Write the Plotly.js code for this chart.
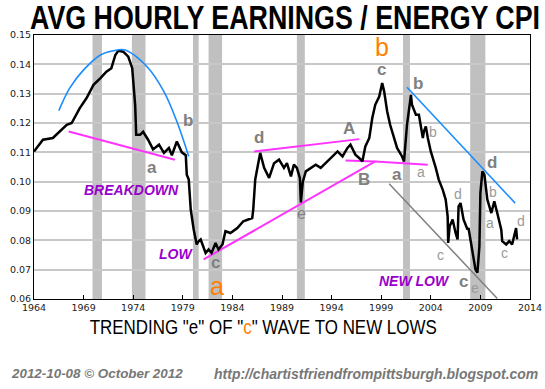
<!DOCTYPE html>
<html>
<head>
<meta charset="utf-8">
<script src="https://cdn.plot.ly/plotly-3.0.1.min.js"></script>
<style>html,body{margin:0;padding:0;background:#fff;}#chart{width:545px;height:389px;}</style>
</head>
<body>
<div id="chart"></div>
<script>
// Main series: avg hourly earnings / energy CPI
const years = [1964.0,1964.9,1965.9,1967.3,1967.8,1968.6,1969.3,1970.0,1970.7,1971.3,1971.8,1972.2,1972.5,1973.0,1973.5,1973.9,1974.2,1974.3,1974.7,1975.0,1975.5,1976.0,1976.6,1977.1,1977.6,1977.9,1978.4,1978.9,1979.3,1979.4,1979.6,1979.8,1980.1,1980.4,1980.6,1980.8,1981.3,1981.6,1981.9,1982.3,1982.6,1983.0,1983.3,1983.8,1984.5,1985.1,1986.0,1986.1,1986.3,1986.7,1986.8,1987.2,1987.7,1988.2,1988.7,1989.2,1989.5,1989.9,1990.2,1990.5,1990.8,1990.9,1991.1,1991.4,1991.9,1992.4,1992.9,1993.6,1994.1,1994.6,1995.1,1995.6,1995.9,1996.4,1996.8,1997.1,1997.4,1997.8,1998.1,1998.4,1998.8,1999.1,1999.3,1999.6,1999.9,2000.3,2000.6,2001.1,2001.3,2001.6,2002.0,2002.1,2002.5,2002.8,2003.2,2003.3,2003.5,2003.7,2004.0,2004.5,2004.8,2005.2,2005.5,2005.7,2005.75,2005.9,2006.2,2006.5,2006.7,2006.8,2007.0,2007.3,2007.7,2007.8,2008.2,2008.5,2008.7,2008.9,2009.0,2009.2,2009.4,2009.7,2010.1,2010.4,2010.7,2011.1,2011.2,2011.6,2011.9,2012.2,2012.6,2012.7];
const ratio = [0.1103,0.1143,0.1149,0.1194,0.1200,0.1250,0.1285,0.1330,0.1353,0.1375,0.1387,0.1432,0.1446,0.1443,0.1426,0.1387,0.1260,0.1160,0.1160,0.1170,0.1143,0.1110,0.1126,0.1098,0.1115,0.1090,0.1137,0.1100,0.1090,0.1024,0.1007,0.0905,0.0837,0.0786,0.0797,0.0803,0.0757,0.0769,0.0757,0.0791,0.0769,0.0786,0.0831,0.0825,0.0842,0.0865,0.0876,0.0905,0.1007,0.1080,0.1098,0.1047,0.1013,0.1063,0.1075,0.1047,0.1063,0.1018,0.1058,0.1047,0.1013,0.0929,0.1000,0.1035,0.1047,0.1058,0.1047,0.1069,0.1086,0.1103,0.1086,0.1115,0.1126,0.1092,0.1080,0.1069,0.1120,0.1149,0.1217,0.1262,0.1290,0.1336,0.1307,0.1240,0.1194,0.1149,0.1115,0.1086,0.1069,0.1194,0.1296,0.1262,0.1228,0.1228,0.1149,0.1171,0.1188,0.1149,0.1103,0.1047,0.1007,0.0973,0.0939,0.0882,0.0791,0.0848,0.0871,0.0825,0.0803,0.0916,0.0927,0.0871,0.0837,0.0842,0.0769,0.0701,0.0690,0.0780,0.0962,0.1035,0.1024,0.0939,0.0893,0.0933,0.0893,0.0837,0.0797,0.0786,0.0797,0.0786,0.0842,0.0803];

// Recessions (shaded)
const recStart = [1969.9,1973.87,1980.03,1981.6,1990.5,2001.2,2007.97];
const recEnd   = [1970.85,1975.24,1980.6,1982.96,1991.3,2001.9,2009.5];

// Overlay trend lines
const arcX = [1966.5,1967.6,1969.0,1970.7,1972.4,1973.2,1975.4,1977.1,1978.4,1979.6];
const arcY = [0.1242,0.1319,0.1381,0.1432,0.1449,0.1449,0.1392,0.1307,0.1205,0.1086];
const blueDownX = [2001.6,2012.5];
const blueDownY = [0.1322,0.0927];
const pinkAX = [1967.5,1978.2];
const pinkAY = [0.1171,0.1075];
const pinkDX = [1986.2,1996.8];
const pinkDY = [0.1103,0.1145];
const pinkEX = [1981.1,1998.4];
const pinkEY = [0.0735,0.1069];
const pinkBX = [1995.4,1998.4,2003.7];
const pinkBY = [0.1072,0.1069,0.1058];
const grayX = [1999.8,2010.7];
const grayY = [0.0993,0.0602];

// Tick labels
const xTicks = [1964,1969,1974,1979,1984,1989,1994,1999,2004,2009,2014];
const yTicks = [0.06,0.07,0.08,0.09,0.10,0.11,0.12,0.13,0.14,0.15];

const MAG = '#ff33ff', BLUE = '#1a8cff', PURPLE = '#9900cc', ORANGE = '#ff8000';
const DARKG = '#808080', LIGHTG = '#9a9a9a';

function ln(x, y, color, w){
  return {x:x, y:y, type:'scatter', mode:'lines', line:{color:color, width:w}, hoverinfo:'skip', showlegend:false};
}

const traces = [
  ln(pinkAX, pinkAY, MAG, 2),
  ln(pinkDX, pinkDY, MAG, 2),
  ln(pinkEX, pinkEY, MAG, 2),
  ln(pinkBX, pinkBY, MAG, 2),
  ln(grayX, grayY, '#808080', 1.5),
  ln(years, ratio, '#000000', 2.5),
  Object.assign(ln(arcX, arcY, BLUE, 1.6), {line:{color:BLUE, width:1.6, shape:'spline'}}),
  ln(blueDownX, blueDownY, BLUE, 1.6)
];

const shapes = recStart.map((s,i)=>({type:'rect', xref:'x', yref:'paper', x0:s, x1:recEnd[i], y0:0, y1:1, fillcolor:'#c0c0c0', line:{width:0}, layer:'between'}));

function lab(x, y, text, kind){
  const styles = {
    bold: {size:17, color:DARKG, family:'Liberation Sans, Arial, sans-serif', weight:'bold'},
    light:{size:14, color:LIGHTG, family:'Liberation Sans, Arial, sans-serif'},
    mid:  {size:16, color:DARKG, family:'Liberation Sans, Arial, sans-serif'},
    orange:{size:25, color:ORANGE, family:'Liberation Sans, Arial, sans-serif'},
    purple:{size:14, color:PURPLE, family:'Liberation Sans, Arial, sans-serif', weight:'bold', style:'italic'}
  };
  return {x:x, y:y, xref:'x', yref:'y', text:text, showarrow:false, font:styles[kind]};
}

const annotations = [
  lab(1979.52,0.1210,'b','bold'),
  lab(1975.9,0.1047,'a','bold'),
  lab(1973.8,0.0972,'BREAKDOWN','purple'),
  lab(1978.3,0.0753,'LOW','purple'),
  lab(1986.7,0.1149,'d','bold'),
  lab(1995.75,0.1180,'A','bold'),
  lab(1997.3,0.1009,'B','bold'),
  lab(1991.0,0.0890,'e','mid'),
  lab(1982.25,0.0726,'c','bold'),
  lab(1982.45,0.0646,'a','orange'),
  lab(1999.1,0.1460,'b','orange'),
  lab(1999.0,0.1381,'c','bold'),
  lab(2002.7,0.1333,'b','bold'),
  lab(2004.2,0.1169,'b','light'),
  lab(2000.6,0.1023,'a','bold'),
  lab(2003.0,0.1033,'a','light'),
  lab(2010.2,0.1067,'d','bold'),
  lab(2006.7,0.0958,'d','light'),
  lab(2010.3,0.0965,'b','light'),
  lab(2010.0,0.0859,'a','light'),
  lab(2013.1,0.0866,'d','light'),
  lab(2005.0,0.0750,'c','light'),
  lab(2011.4,0.0757,'c','light'),
  lab(2002.4,0.0661,'NEW LOW','purple'),
  lab(2007.25,0.0658,'c','bold'),
  lab(2008.45,0.0637,'e','light'),
  {xref:'paper', yref:'paper', x:0.4617, y:-0.1023, xanchor:'center', yanchor:'middle', showarrow:false,
   text:'TRENDING "e" OF "<span style="color:'+ORANGE+'">c</span>" WAVE TO NEW LOWS',
   font:{family:'Liberation Sans, Arial, sans-serif', size:21, color:'#000'}},
  {xref:'paper', yref:'paper', x:-0.0504, y:-0.284, xanchor:'left', yanchor:'middle', showarrow:false,
   text:'2012-10-08 \u00A9 October 2012',
   font:{family:'Liberation Sans, Arial, sans-serif', size:13.4, color:'#777', weight:'bold', style:'italic'}},
  {xref:'paper', yref:'paper', x:1.0202, y:-0.284, xanchor:'right', yanchor:'middle', showarrow:false,
   text:'http://chartistfriendfrompittsburgh.blogspot.com',
   font:{family:'Liberation Sans, Arial, sans-serif', size:14, color:'#777', weight:'bold', style:'italic'}}
];

const layout = {
  width:545, height:389,
  margin:{l:34, r:15, t:35, b:90, pad:0},
  paper_bgcolor:'#ffffff', plot_bgcolor:'#ffffff',
  showlegend:false,
  title:{text:'AVG HOURLY EARNINGS / ENERGY CPI', x:0.523, xanchor:'center', y:0.955, yanchor:'middle',
         font:{family:'Liberation Sans, Arial, sans-serif', size:33, color:'#000', weight:'bold'}},
  xaxis:{range:[1964,2014], tickvals:xTicks, ticktext:xTicks.map(String), showgrid:false, zeroline:false,
         showline:true, mirror:true, linecolor:'#000', linewidth:1, ticks:'inside', ticklen:4, tickcolor:'#000',
         tickfont:{family:'DejaVu Sans, Verdana, sans-serif', size:9.5, color:'#222'}},
  yaxis:{range:[0.06,0.15], tickvals:yTicks, ticktext:yTicks.map(v=>v.toFixed(2)), showgrid:true, gridcolor:'#c8c8c8', gridwidth:2,
         zeroline:false, showline:true, mirror:true, linecolor:'#000', linewidth:1, ticks:'',
         tickfont:{family:'DejaVu Sans, Verdana, sans-serif', size:9.5, color:'#222'}},
  shapes:shapes,
  annotations:annotations
};

function squeeze(el, len){
  if(!el) return;
  el.setAttribute('textLength', len);
  el.setAttribute('lengthAdjust', 'spacingAndGlyphs');
}

Plotly.newPlot('chart', traces, layout, {staticPlot:true, displayModeBar:false}).then(function(){
  squeeze(document.querySelector('.gtitle'), 510);
  document.querySelectorAll('.annotation-text').forEach(function(t){
    if(t.textContent.indexOf('TRENDING') === 0) squeeze(t, 347);
  });
});
</script>
</body>
</html>
